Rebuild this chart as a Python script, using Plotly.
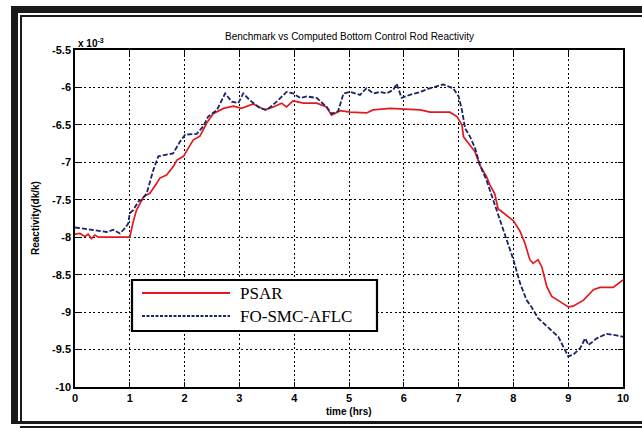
import plotly.graph_objects as go

# ---- data (reactivity in units of 1e-3 dk/k) ----
t_psar = [0, 0.09, 0.18, 0.24, 0.30, 0.36, 0.43, 1.0, 1.06, 1.12,
          1.25, 1.37, 1.49, 1.55, 1.67, 1.79, 1.86, 1.98, 2.10, 2.16,
          2.28, 2.40, 2.52, 2.71, 2.89, 3.04, 3.25, 3.47, 3.62, 3.77,
          3.86, 3.98, 4.17, 4.41, 4.59, 4.68, 4.84, 5.02, 5.32, 5.44,
          5.75, 5.99, 6.30, 6.48, 6.84, 6.97, 7.06, 7.09, 7.21, 7.30,
          7.39, 7.51, 7.57, 7.66, 7.72, 7.82, 8.00, 8.12, 8.21, 8.30,
          8.36, 8.45, 8.52, 8.61, 8.70, 8.85, 9.00, 9.09, 9.28, 9.46,
          9.58, 9.82, 9.95, 10.0]
v_psar = [-7.96, -7.95, -7.99, -7.96, -8.02, -7.97, -8.0, -8.0, -7.80, -7.64,
          -7.46, -7.41, -7.28, -7.21, -7.17, -7.06, -6.97, -6.92, -6.77, -6.70,
          -6.65, -6.48, -6.35, -6.28, -6.25, -6.28, -6.22, -6.30, -6.26, -6.21,
          -6.26, -6.18, -6.21, -6.21, -6.26, -6.37, -6.31, -6.33, -6.34, -6.30,
          -6.28, -6.29, -6.30, -6.33, -6.33, -6.39, -6.50, -6.66, -6.77, -6.86,
          -7.04, -7.19, -7.30, -7.42, -7.62, -7.68, -7.78, -7.92, -8.08, -8.30,
          -8.35, -8.30, -8.40, -8.66, -8.79, -8.86, -8.93, -8.92, -8.84, -8.70,
          -8.67, -8.67, -8.59, -8.57]

t_fo = [0, 0.1, 0.2, 0.33, 0.45, 0.58, 0.7, 0.76, 0.82, 0.91,
        0.97, 1.0, 1.06, 1.16, 1.22, 1.31, 1.43, 1.52, 1.67, 1.79,
        1.92, 2.01, 2.22, 2.34, 2.43, 2.59, 2.74, 2.86, 2.98, 3.07,
        3.19, 3.38, 3.50, 3.68, 3.86, 3.98, 4.11, 4.23, 4.41, 4.59,
        4.68, 4.80, 4.90, 5.02, 5.20, 5.32, 5.44, 5.57, 5.69, 5.81,
        5.87, 5.96, 6.11, 6.30, 6.48, 6.72, 6.90, 7.0, 7.06, 7.12,
        7.21, 7.30, 7.39, 7.51, 7.63, 7.76, 7.88, 8.0, 8.12, 8.24,
        8.33, 8.45, 8.61, 8.82, 8.91, 9.0, 9.09, 9.22, 9.31, 9.37,
        9.52, 9.70, 9.88, 10.0]
v_fo = [-7.87, -7.88, -7.89, -7.90, -7.91, -7.93, -7.90, -7.92, -7.95, -7.88,
        -7.82, -7.68, -7.64, -7.52, -7.50, -7.41, -7.10, -6.92, -6.90, -6.88,
        -6.72, -6.63, -6.62, -6.52, -6.39, -6.30, -6.08, -6.19, -6.21, -6.08,
        -6.17, -6.28, -6.30, -6.19, -6.06, -6.08, -6.14, -6.12, -6.14, -6.26,
        -6.35, -6.32, -6.08, -6.06, -6.10, -6.01, -6.08, -6.06, -6.08, -6.03,
        -5.95, -6.14, -6.10, -6.06, -6.01, -5.96, -6.01, -6.12, -6.30, -6.55,
        -6.66, -6.81, -7.04, -7.24, -7.50, -7.77, -8.04, -8.30, -8.61, -8.84,
        -8.93, -9.08, -9.19, -9.33, -9.46, -9.59, -9.57, -9.48, -9.35, -9.44,
        -9.35, -9.29, -9.31, -9.33]

x_ticks = list(range(0, 11))
y_ticks = [-5.5, -6, -6.5, -7, -7.5, -8, -8.5, -9, -9.5, -10]
y_tick_text = ["-5.5", "-6", "-6.5", "-7", "-7.5", "-8", "-8.5", "-9", "-9.5", "-10"]

series_names = ["PSAR", "FO-SMC-AFLC"]
RED = "#e3191f"
NAVY = "#1b2466"

W, H = 642, 428
L, R, T, B = 75, 623, 50, 387  # plot area pixels


def px(x):
    return (x - L) / (R - L)


def py(y):
    return (B - y) / (B - T)


fig = go.Figure()
fig.add_trace(go.Scatter(x=t_psar, y=v_psar, mode="lines", name=series_names[0],
                         line=dict(color=RED, width=1.7)))
fig.add_trace(go.Scatter(x=t_fo, y=v_fo, mode="lines", name=series_names[1],
                         line=dict(color=NAVY, width=1.8, dash="5px,2px")))

axis_font = dict(family="Liberation Sans, Arial", size=11, color="black", weight="bold")
common = dict(showline=True, linecolor="black", linewidth=1.5, mirror="ticks",
              ticks="inside", ticklen=5, tickcolor="black", tickwidth=1,
              showgrid=True, gridcolor="black", gridwidth=1, griddash="2px,2.5px",
              zeroline=False, tickfont=axis_font)

fig.update_xaxes(range=[0, 10], tickvals=x_ticks, **common)
fig.update_yaxes(range=[-10, -5.5], tickvals=y_ticks, ticktext=y_tick_text, **common)

shapes = []
# outer black frame (thick + thin lines)
frame = [
    (11, 6, 642, 13),     # top thick
    (11, 6, 18, 424),     # left thick
    (20, 15, 642, 17),    # top thin
    (20, 15, 22, 423),    # left thin
    (11, 421, 642, 424),  # bottom thick
    (20, 426, 642, 428),  # bottom thin
]
for x0, y0, x1, y1 in frame:
    shapes.append(dict(type="rect", xref="paper", yref="paper",
                       x0=px(x0), x1=px(x1), y0=py(y1), y1=py(y0),
                       fillcolor="#1a1a1a", line=dict(width=0), layer="above"))

# legend box
shapes.append(dict(type="rect", xref="paper", yref="paper",
                   x0=px(132), x1=px(377), y0=py(331), y1=py(280),
                   fillcolor="white", line=dict(color="black", width=2.2), layer="above"))
shapes.append(dict(type="line", xref="paper", yref="paper",
                   x0=px(142), x1=px(230), y0=py(293), y1=py(293),
                   line=dict(color=RED, width=2), layer="above"))
shapes.append(dict(type="line", xref="paper", yref="paper",
                   x0=px(142), x1=px(230), y0=py(316), y1=py(316),
                   line=dict(color=NAVY, width=2, dash="3px,1.5px"), layer="above"))

annotations = [
    dict(text="Benchmark vs Computed Bottom Control Rod Reactivity", xref="paper", yref="paper",
         x=px(349), y=py(37), showarrow=False, xanchor="center", yanchor="middle",
         font=dict(family="Liberation Sans, Arial", size=10, color="black")),
    dict(text="x 10<sup>-3</sup>", xref="paper", yref="paper",
         x=px(76), y=py(43), showarrow=False, xanchor="left", yanchor="middle",
         font=dict(family="Liberation Sans, Arial", size=10, color="black", weight="bold")),
    dict(text="time (hrs)", xref="paper", yref="paper",
         x=px(349), y=py(411), showarrow=False, xanchor="center", yanchor="middle",
         font=dict(family="Liberation Sans, Arial", size=10, color="black", weight="bold")),
    dict(text="Reactivity(dk/k)", xref="paper", yref="paper", textangle=-90,
         x=px(35), y=py(218), showarrow=False, xanchor="center", yanchor="middle",
         font=dict(family="Liberation Sans, Arial", size=10, color="black", weight="bold")),
    dict(text=series_names[0], xref="paper", yref="paper",
         x=px(238), y=py(293), showarrow=False, xanchor="left", yanchor="middle",
         font=dict(family="Liberation Serif, Times New Roman", size=17, color="black")),
    dict(text=series_names[1], xref="paper", yref="paper",
         x=px(238), y=py(316), showarrow=False, xanchor="left", yanchor="middle",
         font=dict(family="Liberation Serif, Times New Roman", size=17, color="black")),
]

fig.update_layout(width=W, height=H, autosize=False,
                  margin=dict(l=L, r=W - R, t=T, b=H - B, pad=0),
                  paper_bgcolor="white", plot_bgcolor="white",
                  showlegend=False, shapes=shapes, annotations=annotations)

fig.write_html("out.html")
